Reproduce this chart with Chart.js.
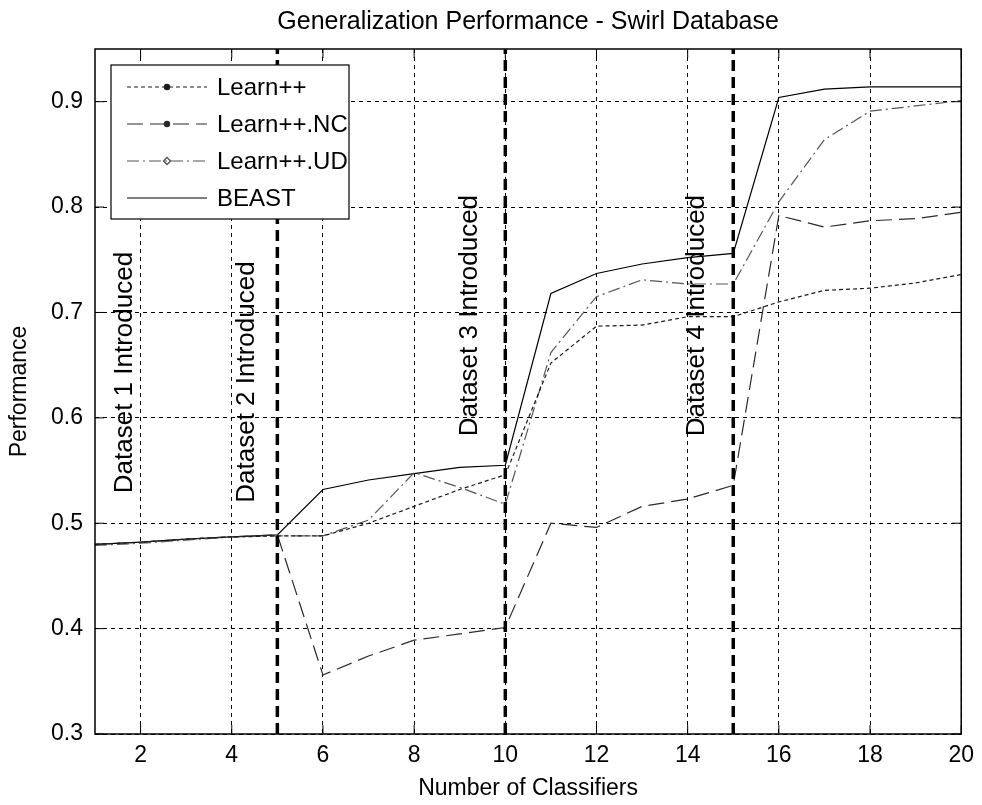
<!DOCTYPE html>
<html>
<head>
<meta charset="utf-8">
<script src="https://cdn.jsdelivr.net/npm/chart.js@4.4.0/dist/chart.umd.min.js"></script>
<style>
html,body{margin:0;padding:0;background:#fff;}
#wrap{width:982px;height:805px;position:relative;}
</style>
</head>
<body>
<div id="wrap"><canvas id="c"></canvas></div>
<script>
// ---------------- data ----------------
const classifiers = [1,2,3,4,5,6,7,8,9,10,11,12,13,14,15,16,17,18,19,20];
const learnPP = [0.480,0.482,0.485,0.487,0.488,0.488,0.500,0.516,0.532,0.546,0.652,0.687,0.688,0.696,0.696,0.710,0.721,0.723,0.728,0.736];
const learnNC = [0.480,0.482,0.485,0.487,0.489,0.356,0.374,0.389,0.395,0.401,0.500,0.496,0.516,0.523,0.536,0.792,0.781,0.787,0.789,0.795];
const learnUD = [0.479,0.481,0.484,0.487,0.488,0.488,0.503,0.548,0.534,0.518,0.662,0.715,0.731,0.727,0.727,0.805,0.864,0.891,0.896,0.901];
const beast   = [0.480,0.482,0.485,0.487,0.489,0.532,0.541,0.547,0.553,0.555,0.718,0.737,0.746,0.752,0.756,0.904,0.912,0.914,0.914,0.914];
const seriesNames = ["Learn++","Learn++.NC","Learn++.UD","BEAST"];
const xTickValues = [2,4,6,8,10,12,14,16,18,20];
const yTickValues = [0.3,0.4,0.5,0.6,0.7,0.8,0.9];
const datasetIntroductions = [5,10,15];
const introLabels = ["Dataset 1 Introduced","Dataset 2 Introduced","Dataset 3 Introduced","Dataset 4 Introduced"];

// ---------------- layout / style ----------------
const X_MIN = 1, X_MAX = 20, Y_MIN = 0.3, Y_MAX = 0.95;
const introLabelPos = { x:[1.66,4.33,9.22,14.2], y:[0.643,0.634,0.697,0.697] };
const FONT = "'Liberation Sans', Arial, Helvetica, sans-serif";
const seriesStyles = [
  {color:'#1a1a1a', dash:[4,3], width:1.2, marker:'dot'},
  {color:'#2a2a2a', dash:[16,7], width:1.2, marker:'dot'},
  {color:'#555555', dash:[12,4,2,4], width:1.2, marker:'diamond'},
  {color:'#000000', dash:[], width:1.2, marker:'none'}
];

Chart.defaults.font.family = FONT;
Chart.defaults.color = '#000';

const seriesValues = [learnPP, learnNC, learnUD, beast];
const datasets = [];
datasetIntroductions.forEach(v => {
  datasets.push({
    label: 'intro', isIntro: true,
    data: [{x:v, y:Y_MIN}, {x:v, y:Y_MAX}],
    borderColor:'#000', borderWidth:3.5, borderDash:[11,6],
    pointRadius:0, fill:false, order:0
  });
});
seriesValues.forEach((vals, i) => {
  const st = seriesStyles[i];
  datasets.push({
    label: seriesNames[i], styleIdx: i,
    data: classifiers.map((c, j) => ({x:c, y:vals[j]})),
    borderColor: st.color, borderWidth: st.width, borderDash: st.dash,
    pointRadius:0, tension:0, fill:false, order:1
  });
});

function drawMarker(ctx, type, x, y, color) {
  if (type === 'dot') {
    ctx.fillStyle = color; ctx.beginPath(); ctx.arc(x, y, 3.2, 0, Math.PI*2); ctx.fill();
  } else if (type === 'diamond') {
    ctx.strokeStyle = color; ctx.lineWidth = 1.4; ctx.setLineDash([]);
    ctx.beginPath(); ctx.moveTo(x, y-3.5); ctx.lineTo(x+3.5, y); ctx.lineTo(x, y+3.5); ctx.lineTo(x-3.5, y); ctx.closePath(); ctx.stroke();
  }
}

const decorPlugin = {
  id: 'decor',
  afterDatasetsDraw(chart) {
    const {ctx, chartArea:a, scales:{x, y}} = chart;
    ctx.save();
    // frame
    ctx.setLineDash([]);
    ctx.strokeStyle = '#000'; ctx.lineWidth = 1.5;
    ctx.strokeRect(a.left, a.top, a.right - a.left, a.bottom - a.top);
    // inward ticks
    const tl = 9;
    ctx.lineWidth = 1;
    ctx.beginPath();
    xTickValues.forEach(v => {
      const px = x.getPixelForValue(v);
      ctx.moveTo(px, a.bottom); ctx.lineTo(px, a.bottom - tl);
      ctx.moveTo(px, a.top); ctx.lineTo(px, a.top + tl);
    });
    yTickValues.forEach(v => {
      const py = y.getPixelForValue(v);
      ctx.moveTo(a.left, py); ctx.lineTo(a.left + tl, py);
      ctx.moveTo(a.right, py); ctx.lineTo(a.right - tl, py);
    });
    ctx.stroke();
    // rotated annotation labels
    ctx.fillStyle = '#000';
    ctx.font = '26px ' + FONT;
    ctx.textAlign = 'center'; ctx.textBaseline = 'middle';
    introLabels.forEach((t, i) => {
      const px = x.getPixelForValue(introLabelPos.x[i]);
      const py = y.getPixelForValue(introLabelPos.y[i]);
      ctx.save(); ctx.translate(px, py); ctx.rotate(-Math.PI/2);
      ctx.fillText(t, 0, 0); ctx.restore();
    });
    // legend
    const L = {left: a.left + 16, top: a.top + 16, width: 238, height: 154, firstRow: 22, step: 37, line0: 16, line1: 96, text: 106};
    ctx.fillStyle = '#fff';
    ctx.fillRect(L.left, L.top, L.width, L.height);
    ctx.strokeStyle = '#000'; ctx.lineWidth = 1.2; ctx.setLineDash([]);
    ctx.strokeRect(L.left, L.top, L.width, L.height);
    ctx.font = '24px ' + FONT;
    ctx.textAlign = 'left'; ctx.textBaseline = 'middle';
    seriesNames.forEach((name, i) => {
      const st = seriesStyles[i];
      const ry = L.top + L.firstRow + i * L.step;
      ctx.strokeStyle = st.color; ctx.lineWidth = st.width; ctx.setLineDash(st.dash);
      ctx.beginPath(); ctx.moveTo(L.left + L.line0, ry); ctx.lineTo(L.left + L.line1, ry); ctx.stroke();
      ctx.setLineDash([]);
      drawMarker(ctx, st.marker, L.left + (L.line0 + L.line1)/2, ry, st.color);
      ctx.fillStyle = '#000';
      ctx.fillText(name, L.left + L.text, ry + 1);
    });
    ctx.restore();
  }
};

new Chart(document.getElementById('c'), {
  type: 'line',
  data: { datasets },
  plugins: [decorPlugin],
  options: {
    responsive: true, maintainAspectRatio: false, animation: false,
    layout: { padding: {top:0, right:20, bottom:0, left:0} },
    plugins: {
      legend: { display:false },
      tooltip: { enabled:false },
      title: { display:true, text:'Generalization Performance - Swirl Database', fullSize:false,
               font:{size:25, weight:'normal'}, color:'#000', padding:{top:7, bottom:12} }
    },
    scales: {
      x: {
        type:'linear', min:X_MIN, max:X_MAX,
        afterBuildTicks: s => { s.ticks = xTickValues.map(v => ({value:v})); },
        afterFit: s => { s.height = 71; },
        grid: { color:'#000', lineWidth:1, drawTicks:false },
        border: { display:false, dash:[4,4] },
        ticks: { font:{size:23}, color:'#000', padding:8, maxRotation:0, autoSkip:false,
                 callback: v => String(v) },
        title: { display:true, text:'Number of Classifiers', font:{size:23}, color:'#000', padding:{top:0, bottom:3} }
      },
      y: {
        type:'linear', min:Y_MIN, max:Y_MAX,
        afterBuildTicks: s => { s.ticks = yTickValues.map(v => ({value:v})); },
        afterFit: s => { s.width = 95; },
        grid: { color:'#000', lineWidth:1, drawTicks:false },
        border: { display:false, dash:[4,4] },
        ticks: { font:{size:23}, color:'#000', padding:12, autoSkip:false,
                 callback: v => Number(v).toFixed(1) },
        title: { display:true, text:'Performance', font:{size:23}, color:'#000', padding:{top:6, bottom:0} }
      }
    }
  }
});
</script>
</body>
</html>
